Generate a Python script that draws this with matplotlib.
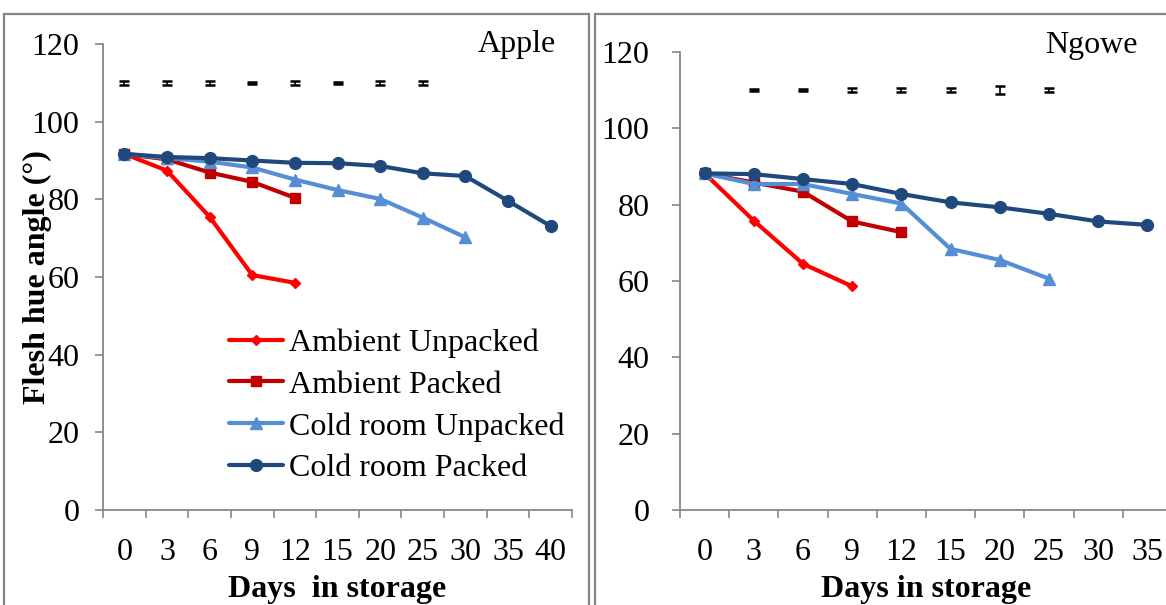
import matplotlib
matplotlib.use("Agg")
import matplotlib.pyplot as plt
from matplotlib.patches import Rectangle

plt.rcParams["font.family"] = ["Liberation Serif", "DejaVu Serif"]

# storage days (categorical axis)
apple_days = ["0", "3", "6", "9", "12", "15", "20", "25", "30", "35", "40"]
ngowe_days = ["0", "3", "6", "9", "12", "15", "20", "25", "30", "35"]

# flesh hue angle, Apple
apple_amb_unpacked = [91.7, 87.4, 75.5, 60.5, 58.5]
apple_amb_packed = [91.7, 90.3, 86.9, 84.5, 80.4]
apple_cold_unpacked = [91.7, 90.6, 89.7, 88.2, 85.1, 82.4, 80.1, 75.3, 70.2]
apple_cold_packed = [91.7, 90.9, 90.6, 90.0, 89.4, 89.3, 88.6, 86.7, 86.0, 79.6, 73.1]

# flesh hue angle, Ngowe
ngowe_amb_unpacked = [88.2, 75.8, 64.5, 58.6]
ngowe_amb_packed = [88.2, 85.8, 83.4, 75.6, 72.8]
ngowe_cold_unpacked = [88.2, 85.4, 85.4, 82.8, 80.3, 68.4, 65.5, 60.6]
ngowe_cold_packed = [88.2, 88.0, 86.7, 85.4, 82.8, 80.6, 79.3, 77.6, 75.6, 74.7]

# LSD bars drawn at the top of each panel
apple_lsd_idx = [0, 1, 2, 3, 4, 5, 6, 7]
apple_lsd = [0.6, 0.6, 0.5, 0.2, 0.6, 0.2, 0.6, 0.5]
ngowe_lsd_idx = [1, 2, 3, 4, 5, 6, 7]
ngowe_lsd = [0.2, 0.2, 0.5, 0.5, 0.5, 1.1, 0.5]
lsd_level = 110

labels = ["Ambient Unpacked", "Ambient Packed", "Cold room Unpacked", "Cold room Packed"]
colors = ["#FF0000", "#C00000", "#558ED5", "#1F497D"]
markers = ["D", "s", "^", "o"]
msizes = [5, 7, 8, 8.5]

GRAY = "#868686"
FS = 23

fig = plt.figure(figsize=(11.66, 6.05), dpi=100)

# panel frames
fig.patches.append(Rectangle((4 / 1166, -0.05), 585 / 1166, 1.05 - 14 / 605,
                             transform=fig.transFigure, fill=False,
                             edgecolor=GRAY, lw=1.6))
fig.patches.append(Rectangle((595 / 1166, -0.05), 0.6, 1.05 - 14 / 605,
                             transform=fig.transFigure, fill=False,
                             edgecolor=GRAY, lw=1.6))

ax1 = fig.add_axes([103 / 1166, 95 / 605, 469 / 1166, 466 / 605])
ax2 = fig.add_axes([680 / 1166, 95 / 605, 492 / 1166, 458 / 605])


def style(ax, cats, ypad):
    n = len(cats)
    ax.set_xlim(-0.5, n - 0.5)
    ax.set_ylim(0, 120)
    ax.set_yticks(range(0, 121, 20))
    ax.set_xticks(range(n))
    ax.set_xticklabels(cats)
    ax.set_xticks([i - 0.5 for i in range(n + 1)], minor=True)
    ax.tick_params(axis="x", which="major", length=0, pad=20, labelsize=FS)
    ax.tick_params(axis="x", which="minor", length=6, width=1.2, color=GRAY)
    ax.tick_params(axis="y", length=6, width=1.2, color=GRAY, pad=ypad,
                   labelsize=FS)
    for s in ("top", "right"):
        ax.spines[s].set_visible(False)
    for s in ("left", "bottom"):
        ax.spines[s].set_color(GRAY)
        ax.spines[s].set_linewidth(1.3)


def draw(ax, series, lsd_idx, lsd):
    for vals, lab, c, m, ms in zip(series, labels, colors, markers, msizes):
        ax.plot(range(len(vals)), vals, color=c, lw=3, marker=m, ms=ms,
                label=lab, solid_capstyle="round")
    ax.errorbar(lsd_idx, [lsd_level] * len(lsd_idx), yerr=lsd, fmt="none",
                ecolor="black", elinewidth=1.2, capsize=3.5, capthick=1.8)


draw(ax1, [apple_amb_unpacked, apple_amb_packed, apple_cold_unpacked,
           apple_cold_packed], apple_lsd_idx, apple_lsd)
draw(ax2, [ngowe_amb_unpacked, ngowe_amb_packed, ngowe_cold_unpacked,
           ngowe_cold_packed], ngowe_lsd_idx, ngowe_lsd)
style(ax1, apple_days, 11)
style(ax2, ngowe_days, 16)

ax1.text(0.965, 0.998, "Apple", transform=ax1.transAxes, ha="right",
         va="center", fontsize=FS)
ax2.text(0.931, 1.015, "Ngowe", transform=ax2.transAxes, ha="right",
         va="center", fontsize=FS)

ax1.set_xlabel("Days  in storage", fontsize=FS, fontweight="bold", labelpad=6)
ax2.set_xlabel("Days in storage", fontsize=FS, fontweight="bold", labelpad=6)
ax1.set_ylabel("Flesh hue angle (°)", fontsize=FS, fontweight="bold",
               labelpad=-15)

ax1.legend(loc="upper left", bbox_to_anchor=(0.268, 0.39), frameon=False,
           fontsize=FS, handlelength=1.7, handletextpad=0.19,
           labelspacing=0.39, borderpad=0, borderaxespad=0)

fig.savefig("out.png", dpi=100)
